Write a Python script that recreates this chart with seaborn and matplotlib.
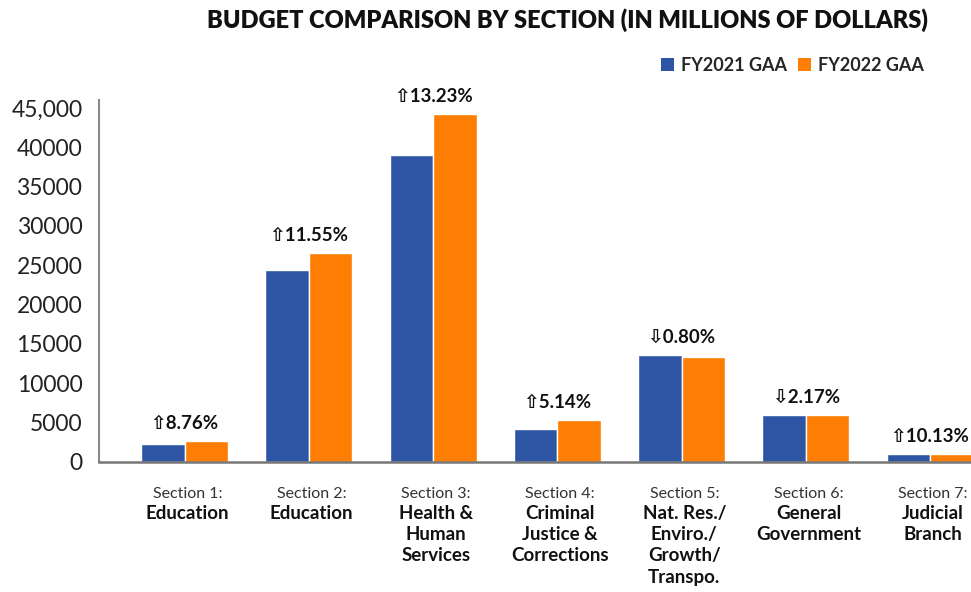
import matplotlib
matplotlib.use("Agg")
import matplotlib.pyplot as plt
import seaborn as sns
import pandas as pd
from matplotlib.patches import Patch

# ---- data ----
keys = ["S1", "S2", "S3", "S4", "S5", "S6", "S7"]
sections = ["Section 1:", "Section 2:", "Section 3:", "Section 4:",
            "Section 5:", "Section 6:", "Section 7:"]
names = ["Education", "Education", "Health &\nHuman\nServices",
         "Criminal\nJustice &\nCorrections",
         "Nat. Res./\nEnviro./\nGrowth/\nTranspo.",
         "General\nGovernment", "Judicial\nBranch"]
fy2021 = [2250, 24400, 39000, 4200, 13600, 5980, 980]
fy2022 = [2700, 26600, 44200, 5400, 13300, 5960, 980]
changes = ["⇧8.76%", "⇧11.55%", "⇧13.23%", "⇧5.14%",
           "⇩0.80%", "⇩2.17%", "⇧10.13%"]
series = ["FY2021 GAA", "FY2022 GAA"]
yticks = [0, 5000, 10000, 15000, 20000, 25000, 30000, 35000, 40000, 45000]
ytick_labels = ["0", "5000", "10000", "15000", "20000", "25000",
                "30000", "35000", "40000", "45,000"]
colors = ["#2D55A4", "#FD7E03"]

df = pd.DataFrame({
    "key": keys * 2,
    "value": fy2021 + fy2022,
    "year": [series[0]] * len(keys) + [series[1]] * len(keys),
})

sns.set_theme(style="white")
plt.rcParams["font.family"] = ["Lato", "DejaVu Sans"]

fig = plt.figure(figsize=(9.71, 5.92), dpi=100)
ax = fig.add_axes([0.102, 0.2196, 0.898, 0.6115])

sns.barplot(data=df, x="key", y="value", hue="year", order=keys,
            hue_order=series, palette=colors, width=0.7, saturation=1,
            edgecolor="white", linewidth=1.0, ax=ax, legend=False)

ax.set_xlim(-0.69, 6.33)
ax.set_ylim(0, 46000)
ax.set_yticks(yticks)
ax.set_yticklabels(ytick_labels, fontsize=16.5, color="#222222")
ax.tick_params(axis="y", direction="in", length=18, width=1.2,
               color="#666666", pad=12)
ax.set_xticks(range(len(keys)))
ax.set_xticklabels([""] * len(keys))
ax.tick_params(axis="x", length=0)
ax.set_xlabel("")
ax.set_ylabel("")
for s in ["top", "right"]:
    ax.spines[s].set_visible(False)
ax.spines["left"].set_color("#8a8a8a")
ax.spines["left"].set_linewidth(1.5)
ax.spines["bottom"].set_color("#777777")
ax.spines["bottom"].set_linewidth(1.8)

# percent change annotations
for i, (a, b, c) in enumerate(zip(fy2021, fy2022, changes)):
    ax.annotate(c, xy=(i, max(a, b)), xytext=(0, 12.5),
                textcoords="offset points", ha="center", va="center",
                fontsize=13.5, fontweight="bold", color="#111111",
                annotation_clip=False)

# category labels
xt = ax.get_xaxis_transform()
for i, (s, n) in enumerate(zip(sections, names)):
    ax.annotate(s, xy=(i, 0), xycoords=xt, xytext=(2, -23),
                textcoords="offset points", ha="center", va="center",
                fontsize=11.5, color="#333333", annotation_clip=False)
    ax.annotate(n, xy=(i, 0), xycoords=xt, xytext=(2, -31),
                textcoords="offset points", ha="center", va="top",
                fontsize=13.5, fontweight="bold", color="#111111",
                linespacing=1.3, multialignment="center",
                annotation_clip=False)

fig.text(0.5845, 0.966, "BUDGET COMPARISON BY SECTION (IN MILLIONS OF DOLLARS)",
         ha="center", va="center", fontsize=17, fontweight="heavy",
         color="#111111")

handles = [Patch(facecolor=c, edgecolor="none") for c in colors]
fig.legend(handles, series, loc="center right", bbox_to_anchor=(0.968, 0.89),
           ncol=2, frameon=False, handlelength=0.7, handleheight=0.7,
           handletextpad=0.4, columnspacing=0.6,
           prop={"weight": "bold", "size": 13})

fig.savefig("out.png", dpi=100)
